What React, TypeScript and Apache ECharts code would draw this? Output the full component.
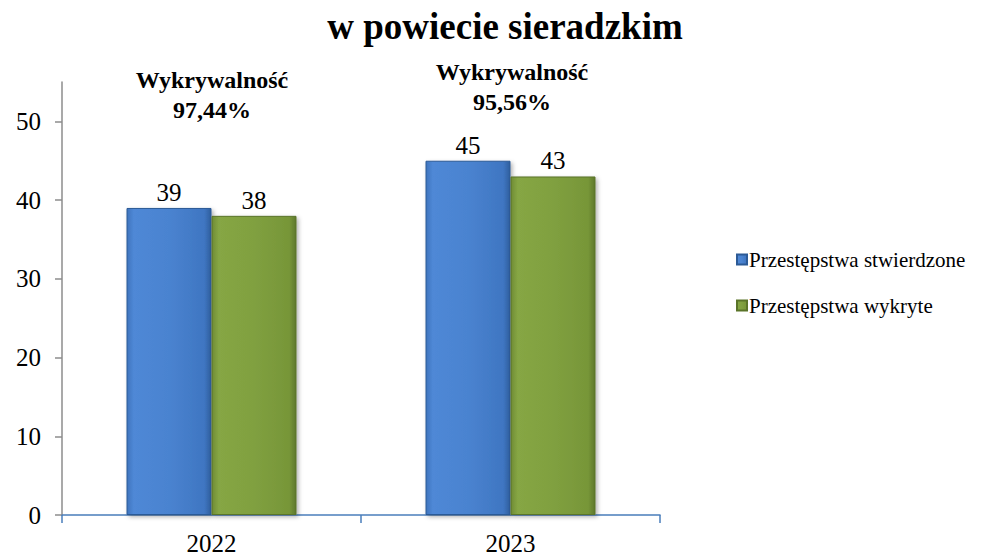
import React, { useEffect, useRef } from "react";
import * as echarts from "echarts";

const years = ["2022", "2023"];
const stwierdzone = [39, 45];
const wykryte = [38, 43];
const seriesNames = ["Przestępstwa stwierdzone", "Przestępstwa wykryte"];
const rates = ["97,44%", "95,56%"];
const yTicks = [0, 10, 20, 30, 40, 50];
const titleText = "w powiecie sieradzkim";

const FONT = "Liberation Serif";

export default function App() {
  const ref = useRef<HTMLDivElement>(null);
  useEffect(() => {
    if (!ref.current) return;
    const chart = echarts.init(ref.current, undefined, { renderer: "svg" });
    const blue = new echarts.graphic.LinearGradient(0, 0, 1, 0, [
      { offset: 0, color: "#3f74bd" },
      { offset: 0.08, color: "#4f88d6" },
      { offset: 0.5, color: "#4a83d0" },
      { offset: 0.92, color: "#3f76c2" },
      { offset: 1, color: "#2f5f9e" },
    ]);
    const green = new echarts.graphic.LinearGradient(0, 0, 1, 0, [
      { offset: 0, color: "#6f8c35" },
      { offset: 0.08, color: "#86a644" },
      { offset: 0.5, color: "#80a040" },
      { offset: 0.92, color: "#779638" },
      { offset: 1, color: "#5e782c" },
    ]);
    const labelStyle = {
      show: true,
      position: "top" as const,
      distance: 3,
      fontFamily: FONT,
      fontSize: 25,
      color: "#000",
    };
    const annot = (x: number, y: number, rate: string) => ({
      type: "text",
      x,
      y,
      style: {
        text: "Wykrywalność\n" + rate,
        align: "center",
        verticalAlign: "top",
        fontFamily: FONT,
        fontSize: 24,
        fontWeight: "bold",
        lineHeight: 30,
        fill: "#000",
      },
    });
    chart.setOption({
      animation: false,
      title: {
        text: titleText,
        left: 500,
        textAlign: "center",
        top: 3,
        textStyle: { fontFamily: FONT, fontSize: 37, fontWeight: "bold", color: "#000" },
      },
      legend: {
        orient: "vertical",
        left: 731,
        top: 244,
        itemWidth: 10,
        itemHeight: 10,
        itemGap: 25,
        icon: "rect",
        textStyle: { fontFamily: FONT, fontSize: 21, color: "#000", padding: [0, 0, 0, -3] },
        data: seriesNames,
      },
      grid: { left: 62, right: 338, top: 82, bottom: 42, containLabel: false },
      xAxis: {
        type: "category",
        data: years,
        axisLine: { lineStyle: { color: "#4a7ebb", width: 1.5 } },
        axisTick: { show: true, length: 8, lineStyle: { color: "#4a7ebb", width: 1.5 } },
        axisLabel: { fontFamily: FONT, fontSize: 25, color: "#000", margin: 16 },
      },
      yAxis: {
        type: "value",
        min: 0,
        max: 55,
        interval: 10,
        splitLine: { show: false },
        axisLine: { show: true, lineStyle: { color: "#8c8c8c", width: 1.5 } },
        axisTick: { show: true, length: 7, customValues: yTicks, lineStyle: { color: "#8c8c8c", width: 1.5 } },
        axisLabel: { customValues: yTicks, fontFamily: FONT, fontSize: 25, color: "#000", margin: 21 },
      },
      series: [
        {
          name: seriesNames[0],
          type: "bar",
          data: stwierdzone,
          barWidth: 85,
          barGap: "0%",
          itemStyle: { color: blue, borderColor: "#2c5a96", borderWidth: 1, shadowColor: "rgba(0,0,0,0.3)", shadowBlur: 4, shadowOffsetX: 2, shadowOffsetY: 2 },
          label: labelStyle,
        },
        {
          name: seriesNames[1],
          type: "bar",
          data: wykryte,
          barWidth: 85,
          barGap: "0%",
          itemStyle: { color: green, borderColor: "#5a7429", borderWidth: 1, shadowColor: "rgba(0,0,0,0.3)", shadowBlur: 4, shadowOffsetX: 2, shadowOffsetY: 2 },
          label: labelStyle,
        },
      ],
      graphic: [annot(212, 65, rates[0]), annot(512, 57, rates[1])],
    });
    return () => chart.dispose();
  }, []);
  return <div ref={ref} style={{ width: 998, height: 557, position: "absolute", left: 0, top: 0 }} />;
}
